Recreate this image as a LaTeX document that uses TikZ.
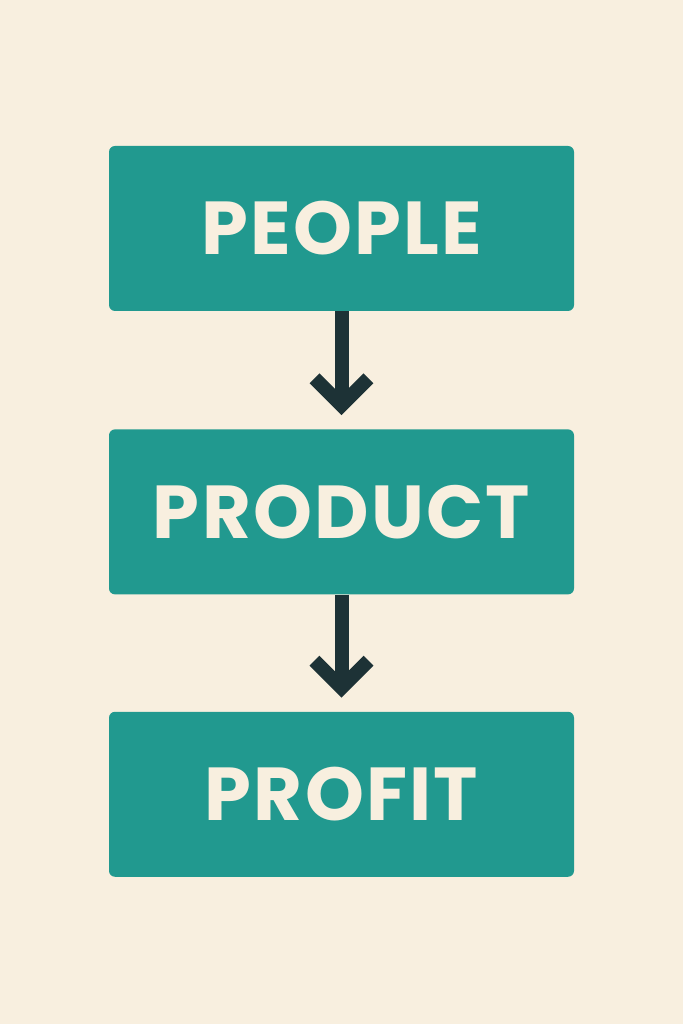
\documentclass[tikz,border=0pt]{standalone}
\usepackage{fontspec}
\setmainfont{Poppins}[LetterSpace=3]
\usetikzlibrary{arrows.meta,positioning}
\definecolor{cream}{HTML}{F8EFDF}
\definecolor{teal}{HTML}{21998F}
\definecolor{ink}{HTML}{1D3236}

\begin{document}
\begin{tikzpicture}[x=1pt, y=1pt, stage/.style={rectangle, fill=teal, rounded corners=6pt, minimum width=465pt, minimum height=165pt, text=cream, font=\fontsize{75}{75}\selectfont\bfseries}, >={Straight Barb[length=27pt, width=54pt]}]
            \fill[cream] (0,0) rectangle (683,1024);
            \useasboundingbox (0,0) rectangle (683,1024);
            \node[stage] (people) at (341.5,795.5) {PEOPLE};
            \node[stage, below=118pt of people] (product) {PRODUCT};
            \node[stage, below=117pt of product] (profit) {PROFIT};
            \draw[->, ink, line width=14pt, shorten >=14pt] (people) -- (product);
            \draw[->, ink, line width=14pt, shorten >=14pt] (product) -- (profit);
        \end{tikzpicture}
\end{document}
